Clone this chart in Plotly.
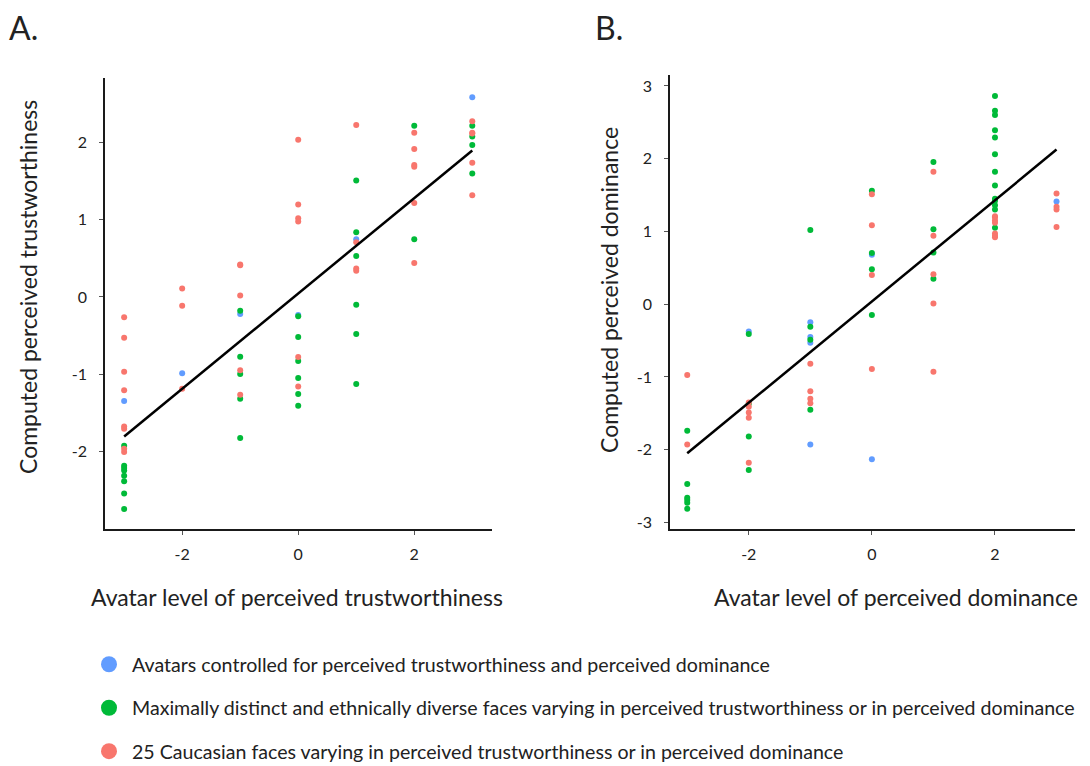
import plotly.graph_objects as go

# ---------------- data ----------------
series_names = [
    "Avatars controlled for perceived trustworthiness and perceived dominance",
    "Maximally distinct and ethnically diverse faces varying in perceived trustworthiness or in perceived dominance",
    "25 Caucasian faces varying in perceived trustworthiness or in perceived dominance",
]
series_colors = ["#619CFF", "#00BA38", "#F8766D"]

# Panel A: trustworthiness
a_blue_x = [-3, -2, -1, 0, 1, 3]
a_blue_y = [-1.35, -0.99, -0.22, -0.234, 0.75, 2.59]
a_green_x = [-3, -3, -3, -3, -3, -3, -3, -3,
             -1, -1, -1, -1, -1,
             0, 0, 0, 0, 0, 0,
             1, 1, 1, 1, 1, 1,
             2, 2,
             3, 3, 3, 3]
a_green_y = [-1.93, -2.19, -2.22, -2.25, -2.32, -2.39, -2.55, -2.75,
             -0.18, -0.775, -1.00, -1.32, -1.83,
             -0.25, -0.52, -0.83, -1.05, -1.26, -1.41,
             1.51, 0.84, 0.53, -0.10, -0.48, -1.13,
             2.22, 0.75,
             2.22, 2.08, 1.97, 1.60]
a_red_x = [-3, -3, -3, -3, -3, -3, -3, -3,
           -2, -2, -2,
           -1, -1, -1, -1, -1,
           0, 0, 0, 0, 0, 0,
           1, 1, 1, 1,
           2, 2, 2, 2, 2, 2,
           3, 3, 3, 3, 3]
a_red_y = [-0.264, -0.528, -0.97, -1.21, -1.68, -1.71, -1.97, -2.01,
           0.108, -0.113, -1.19,
           0.42, 0.41, 0.02, -0.95, -1.27,
           2.04, 1.20, 1.02, 0.98, -0.78, -1.16,
           2.23, 0.71, 0.37, 0.34,
           2.13, 1.92, 1.71, 1.69, 1.22, 0.44,
           2.28, 2.13, 2.12, 1.74, 1.32]
a_fit_x = [-3, 3]
a_fit_y = [-1.81, 1.90]

# Panel B: dominance
b_blue_x = [-2, -1, -1, -1, -1, 0, 0, 3]
b_blue_y = [-0.375, -0.25, -0.45, -0.53, -1.93, 0.68, -2.13, 1.41]
b_green_x = [-3, -3, -3, -3, -3, -3,
             -2, -2, -2, -2,
             -1, -1, -1, -1,
             0, 0, 0, 0,
             1, 1, 1, 1,
             2, 2, 2, 2, 2, 2, 2, 2, 2, 2, 2, 2, 2]
b_green_y = [-1.74, -2.47, -2.66, -2.69, -2.73, -2.81,
             -0.41, -1.37, -1.82, -2.28,
             1.02, -0.31, -0.49, -1.45,
             1.56, 0.705, 0.48, -0.15,
             1.955, 1.03, 0.71, 0.35,
             2.86, 2.66, 2.60, 2.39, 2.29, 2.06, 1.82, 1.63, 1.45, 1.42, 1.36, 1.30, 1.05]
b_red_x = [-3, -3,
           -2, -2, -2, -2, -2,
           -1, -1, -1, -1,
           0, 0, 0, 0,
           1, 1, 1, 1, 1,
           2, 2, 2, 2, 2, 2, 2,
           3, 3, 3, 3]
b_red_y = [-0.975, -1.93,
           -1.35, -1.41, -1.49, -1.56, -2.18,
           -0.82, -1.195, -1.30, -1.36,
           1.51, 1.085, 0.40, -0.89,
           1.82, 0.94, 0.41, 0.01, -0.93,
           1.21, 1.19, 1.15, 1.12, 0.97, 0.94, 0.92,
           1.52, 1.34, 1.30, 1.06]
b_fit_x = [-3, 3]
b_fit_y = [-2.05, 2.125]

a_xticks = [-2, 0, 2]
a_xticklabels = ["-2", "0", "2"]
a_yticks = [-2, -1, 0, 1, 2]
a_yticklabels = ["-2", "-1", "0", "1", "2"]
b_xticks = [-2, 0, 2]
b_xticklabels = ["-2", "0", "2"]
b_yticks = [-3, -2, -1, 0, 1, 2, 3]
b_yticklabels = ["-3", "-2", "-1", "0", "1", "2", "3"]

# ---------------- figure ----------------
FONT = "Lato, 'Open Sans', sans-serif"
W, H = 1090, 766
fig = go.Figure()

panel_a = [(a_blue_x, a_blue_y), (a_green_x, a_green_y), (a_red_x, a_red_y)]
panel_b = [(b_blue_x, b_blue_y), (b_green_x, b_green_y), (b_red_x, b_red_y)]

for i, ((xa, ya), col) in enumerate(zip(panel_a, series_colors)):
    fig.add_trace(go.Scatter(x=xa, y=ya, mode="markers", name=series_names[i],
                             legendgroup=f"g{i}", showlegend=False,
                             marker=dict(color=col, size=6, line=dict(width=0)),
                             xaxis="x", yaxis="y"))
for i, ((xb, yb), col) in enumerate(zip(panel_b, series_colors)):
    fig.add_trace(go.Scatter(x=xb, y=yb, mode="markers", name=series_names[i],
                             legendgroup=f"g{i}", showlegend=False,
                             marker=dict(color=col, size=6, line=dict(width=0)),
                             xaxis="x2", yaxis="y2"))

fig.add_trace(go.Scatter(x=a_fit_x, y=a_fit_y, mode="lines", showlegend=False,
                         line=dict(color="black", width=2.5), xaxis="x", yaxis="y"))
fig.add_trace(go.Scatter(x=b_fit_x, y=b_fit_y, mode="lines", showlegend=False,
                         line=dict(color="black", width=2.5), xaxis="x2", yaxis="y2"))

# legend entries (large swatches)
for i, (name, col) in enumerate(zip(series_names, series_colors)):
    fig.add_trace(go.Scatter(x=[None], y=[None], mode="markers", name=name,
                             legendgroup=f"g{i}", showlegend=True,
                             marker=dict(color=col, size=22, line=dict(width=0)),
                             xaxis="x", yaxis="y"))

def px_x(p):
    return p / W

def px_y(p):
    return 1 - p / H

axis_common = dict(showgrid=False, zeroline=False, showline=True, linecolor="#1a1a1a",
                   linewidth=1.5, ticks="outside", ticklen=4, tickwidth=1, tickcolor="#555",
                   tickmode="array",
                   tickfont=dict(family=FONT, size=16, color="#222"))

fig.update_layout(
    width=W, height=H,
    margin=dict(l=0, r=0, t=0, b=0, autoexpand=False),
    paper_bgcolor="white", plot_bgcolor="white",
    font=dict(family=FONT, color="#222"),
    xaxis=dict(domain=[px_x(105), px_x(492)], range=[-3.33, 3.34],
               tickvals=a_xticks, ticktext=a_xticklabels,
               anchor="y", ticklabelstandoff=6, **axis_common),
    yaxis=dict(domain=[px_y(529), px_y(78)], range=[-3.01, 2.84],
               tickvals=a_yticks, ticktext=a_yticklabels,
               anchor="x", ticklabelstandoff=9, **axis_common),
    xaxis2=dict(domain=[px_x(670), px_x(1075)], range=[-3.28, 3.3],
                tickvals=b_xticks, ticktext=b_xticklabels,
                anchor="y2", ticklabelstandoff=6, **axis_common),
    yaxis2=dict(domain=[px_y(529), px_y(75)], range=[-3.09, 3.15],
                tickvals=b_yticks, ticktext=b_yticklabels,
                anchor="x2", ticklabelstandoff=9, **axis_common),
    legend=dict(x=px_x(86), y=px_y(645), xanchor="left", yanchor="top",
                font=dict(family=FONT, size=19.6, color="#222"),
                tracegroupgap=15, itemsizing="trace", itemwidth=36,
                bgcolor="rgba(0,0,0,0)"),
    showlegend=True,
)

def ann(text, x, y, size, angle=0, xanchor="center"):
    fig.add_annotation(text=text, x=px_x(x), y=px_y(y), xref="paper", yref="paper",
                       showarrow=False, textangle=angle, xanchor=xanchor, yanchor="middle",
                       font=dict(family=FONT, size=size, color="#222"))

ann("A.", 7, 28, 32, xanchor="left")
ann("B.", 593, 28, 32, xanchor="left")
ann("Avatar level of perceived trustworthiness", 297, 597, 23)
ann("Avatar level of perceived dominance", 896, 597, 23)
ann("Computed perceived trustworthiness", 28, 287, 23, angle=-90)
ann("Computed perceived dominance", 609, 290, 23, angle=-90)

fig.write_html("out.html", config={"displayModeBar": False},
               post_script="document.body.style.margin='0';")
